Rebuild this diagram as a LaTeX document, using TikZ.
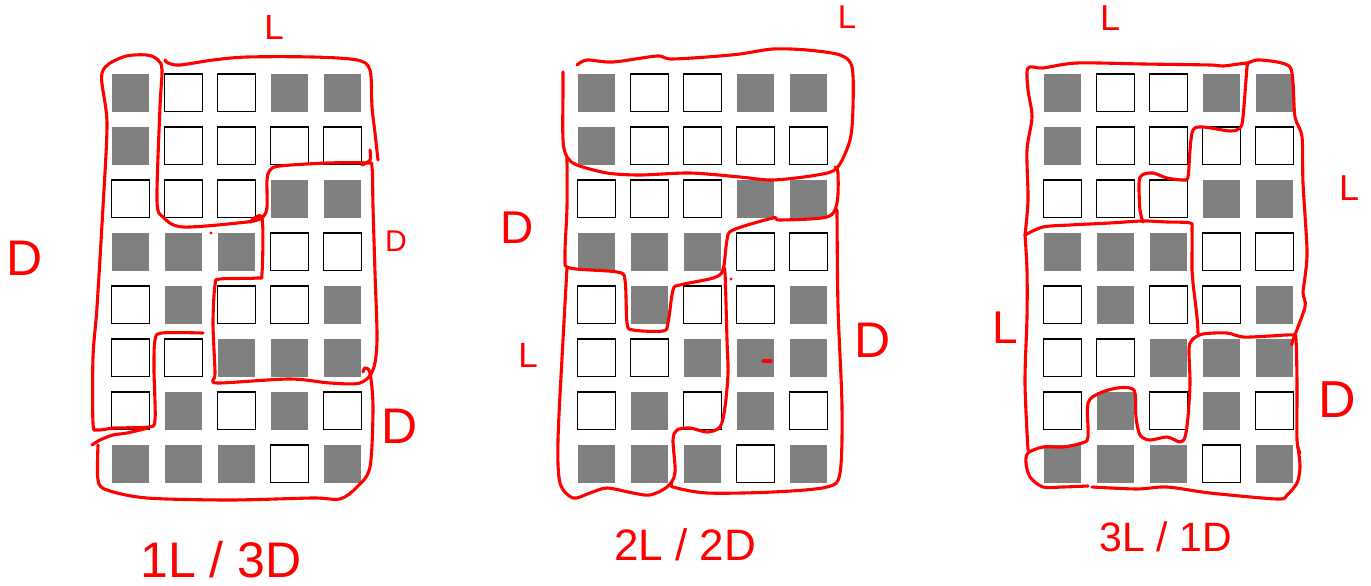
\documentclass[tikz,border=0pt]{standalone}
\usepackage{fontspec}
\setmainfont{Liberation Sans}
\usepackage{xcolor}
\definecolor{pen}{RGB}{255,0,0}
\definecolor{tile}{RGB}{128,128,128}
\def\board{{1,0,0,1,1, 1,0,0,0,0, 0,0,0,1,1, 1,1,1,0,0, 0,1,0,0,1, 0,0,1,1,1, 0,1,0,1,0, 1,1,1,0,1}}

\begin{document}
\begin{tikzpicture}[
    x=1pt, y=-1pt,
    cell/.style={draw=black, line width=1.2pt, fill=white},
    darkcell/.style={fill=tile},
    ink/.style={pen, line width=3.1pt, line cap=round, line join=round},
    hand/.style={text=pen, inner sep=0pt, font=\fontsize{#1}{#1}\selectfont}
]
\fill[white] (0,0) rectangle (1371,586);
\useasboundingbox (0,0) rectangle (1371,586);

% the three boards
\foreach \g in {0,1,2}
  \foreach \r in {0,...,7}
    \foreach \c in {0,...,4} {
      \pgfmathtruncatemacro\dark{\board[\r*5+\c]}
      \pgfmathsetmacro\cx{111.5+466*\g+53*\c}
      \pgfmathsetmacro\cy{74+53*\r}
      \ifnum\dark=1
        \path[darkcell] (\cx,\cy) rectangle ++(37.7,37.7);
      \else
        \path[cell] (\cx,\cy) rectangle ++(37.7,37.7);
      \fi
    }

% board 1
\draw[ink] plot[smooth, tension=0.5] coordinates {(165,60) (168,63) (180,65) (213,60) (247,57) (313,57) (357,60) (370,70) (372,107) (375,133) (378,160)};
\draw[ink] plot[smooth, tension=0.5] coordinates {(203,333) (162,333) (155,340) (154,370) (155,420) (148,427) (115,428) (97,430) (93,423) (93,357) (97,307) (103,207) (107,123) (102,73) (123,57) (147,55) (158,60) (162,70) (160,107) (157,200) (163,217) (183,227) (247,222) (262,218)};
\draw[ink] plot[smooth, tension=0.5] coordinates {(250,222) (262,218) (262,273) (257,278) (220,279) (215,285) (213,323) (215,373) (213,380) (220,383) (290,379) (330,383) (360,383) (373,370) (377,340) (375,273) (373,207) (372,167) (367,163) (327,163) (280,166) (270,170) (267,180) (267,207) (263,217) (250,222)};
\draw[ink] plot[smooth, tension=0.5] coordinates {(362,165) (370,160) (370,150)};
\draw[ink] plot[smooth, tension=0.5] coordinates {(92,445) (100,440) (113,435) (127,433) (148,428)};
\draw[ink] plot[smooth, tension=0.5] coordinates {(98,445) (98,480) (107,490) (147,498) (230,500) (313,498) (340,499) (357,487) (370,467) (373,407) (370,373) (365,368) (363,372)};
\fill[pen] (211,233) circle (1.7pt);

% board 2
\draw[ink] plot[smooth, tension=0.5] coordinates {(577,65) (587,60) (613,62) (657,56) (670,59) (707,57) (740,54) (773,49) (807,50) (840,55) (852,67) (853,107) (850,140) (837,168) (817,175) (773,180) (740,177) (690,173) (640,175) (607,173) (577,165) (567,157) (563,140) (563,90) (563,72)};
\draw[ink] plot[smooth, tension=0.5] coordinates {(567,158) (567,207) (565,257) (570,268) (617,272) (625,280) (627,323) (633,330) (663,331) (668,323) (673,290) (680,285) (713,278) (723,270) (727,240) (733,230) (773,218) (780,220) (827,217) (837,203) (838,173) (835,167)};
\draw[ink] plot[smooth, tension=0.5] coordinates {(567,268) (563,340) (558,440) (560,483) (573,498) (590,493) (607,488) (633,493) (650,495) (667,487) (675,473) (673,440) (677,430) (690,428) (707,432) (720,427) (725,407) (728,373) (727,340) (725,273) (723,270)};
\draw[ink] plot[smooth, tension=0.5] coordinates {(837,210) (838,307) (842,407) (840,473) (827,487) (773,492) (707,493) (673,487) (672,483)};
\fill[pen] (731,279) circle (1.7pt);
\draw[ink] (763,361) -- (771,361);

% board 3
\draw[ink] plot[smooth, tension=0.5] coordinates {(1025,235) (1028,200) (1027,150) (1032,117) (1028,90) (1028,68) (1043,68) (1077,63) (1143,64) (1210,65) (1223,66) (1248,63) (1247,67) (1243,117) (1240,128) (1230,131) (1203,127) (1193,130) (1190,150) (1188,177) (1183,180) (1167,178) (1153,173) (1142,175) (1139,183) (1140,210) (1143,222)};
\draw[ink] plot[smooth, tension=0.5] coordinates {(1246,64) (1257,60) (1277,62) (1290,67) (1293,83) (1295,117) (1302,137) (1303,183) (1307,250) (1305,277) (1303,293) (1305,307) (1293,340) (1292,345)};
\draw[ink] plot[smooth, tension=0.5] coordinates {(1025,235) (1043,227) (1070,225) (1110,223) (1143,221) (1167,222) (1190,223) (1192,230) (1192,270) (1193,283) (1197,317) (1198,333)};
\draw[ink] plot[smooth, tension=0.5] coordinates {(1025,235) (1027,270) (1027,317) (1025,383) (1028,450)};
\draw[ink] plot[smooth, tension=0.5] coordinates {(1300,453) (1297,440) (1297,383) (1296,340) (1293,335) (1270,336) (1243,337) (1227,333) (1203,334) (1192,340) (1189,350) (1190,383) (1188,417) (1185,437) (1180,442) (1167,437) (1150,440) (1140,435) (1136,417) (1135,393) (1130,388) (1117,388) (1100,393) (1088,403) (1088,437) (1082,443) (1063,447) (1043,447) (1028,453) (1026,463) (1030,477) (1043,487) (1063,487) (1088,486)};
\draw[ink] plot[smooth, tension=0.5] coordinates {(1092,487) (1137,489) (1167,487) (1210,493) (1277,499) (1287,495) (1297,483) (1300,467) (1298,447)};

% labels
\node[hand=35] (top1) at (274,27) {L};
\node[hand=50] (left1) at (25,258) {D};
\node[hand=30] (mid1) at (396,241) {D};
\node[hand=50] (low1) at (400,426) {D};
\node[hand=33] (top2) at (847,17) {L};
\node[hand=46] (left2) at (517,228) {D};
\node[hand=35] (low2) at (528,355) {L};
\node[hand=50] (right2) at (873,340) {D};
\node[hand=36] (top3) at (1110,18) {L};
\node[hand=36] (right3) at (1349,188) {L};
\node[hand=52] (low3) at (1337,400) {D};
\node[hand=46] (left3) at (1005,328) {L};
\node[hand=50] (cap1) at (221,560) {1L / 3D};
\node[hand=44] (cap2) at (685,545) {2L / 2D};
\node[hand=41] (cap3) at (1166,537) {3L / 1D};
\end{tikzpicture}
\end{document}
